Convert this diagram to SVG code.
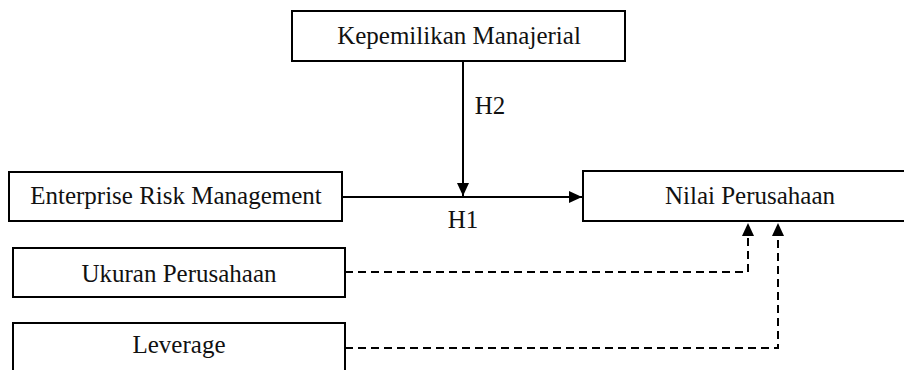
<svg xmlns="http://www.w3.org/2000/svg" width="904" height="370" viewBox="0 0 904 370">
<style>
.box{fill:#fff;stroke:#000;stroke-width:2}
.t{font-family:"Liberation Serif","Times New Roman",serif;font-size:25px;fill:#111;text-anchor:middle}
.c{fill:none;stroke:#000;stroke-width:2}
.d{fill:none;stroke:#000;stroke-width:2;stroke-dasharray:8,5}
</style>
<defs>
<marker id="ah" markerUnits="userSpaceOnUse" markerWidth="14" markerHeight="14" viewBox="0 0 14 14" refX="13" refY="7" orient="auto">
<path d="M0,1 L13,7 L0,13 Z" fill="#000"/>
</marker>
</defs>
<rect width="904" height="370" fill="#fff"/>
<g id="connectors">
<path class="c" d="M342,197 H582" marker-end="url(#ah)"/>
<path class="c" d="M463,61 V196" marker-end="url(#ah)"/>
<path class="d" d="M345,272 H748 V223" marker-end="url(#ah)"/>
<path class="d" d="M345,348 H778 V223" marker-end="url(#ah)"/>
<text class="t" x="463" y="228">H1</text>
<text class="t" x="490" y="114">H2</text>
</g>
<g id="kepemilikan">
<rect class="box" x="292" y="11" width="333" height="50"/>
<text class="t" x="459" y="44">Kepemilikan Manajerial</text>
</g>
<g id="erm">
<rect class="box" x="9" y="172" width="333" height="49"/>
<text class="t" x="176" y="204">Enterprise Risk Management</text>
</g>
<g id="nilai">
<rect class="box" x="583" y="171" width="325" height="50"/>
<text class="t" x="750" y="204">Nilai Perusahaan</text>
</g>
<g id="ukuran">
<rect class="box" x="13" y="248" width="332" height="49"/>
<text class="t" x="179" y="282">Ukuran Perusahaan</text>
</g>
<g id="leverage">
<rect class="box" x="13" y="323" width="332" height="60"/>
<text class="t" x="179" y="353">Leverage</text>
</g>
</svg>
